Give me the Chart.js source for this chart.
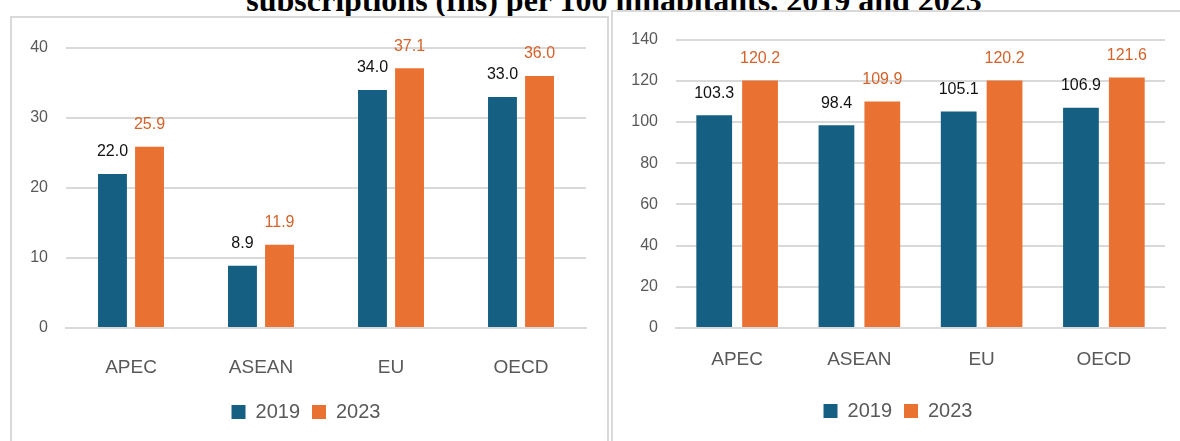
<!DOCTYPE html>
<html>
<head>
<meta charset="utf-8">
<script src="https://cdn.jsdelivr.net/npm/chart.js@4.4.1/dist/chart.umd.min.js"></script>
<style>
  body { margin: 0; width: 1180px; height: 441px; overflow: hidden; background: #fff; position: relative; }
  #title { position: absolute; left: 0; width: 1228px; top: -18px; text-align: center;
    font: bold 32px "Liberation Serif", serif; color: #000; white-space: nowrap; }
  .panel { position: absolute; border: 2px solid #d9d9d9; background: #fff; }
  #leftPanel { left: 10px; top: 16px; width: 595px; height: 440px; }
  #rightPanel { left: 611px; top: 10px; width: 580px; height: 450px; }
  canvas { position: absolute; left: 0; top: 0; }
</style>
</head>
<body>
<div id="title">subscriptions (fhs) per 100 inhabitants, 2019 and 2023</div>
<div class="panel" id="leftPanel"><canvas id="leftChart" width="595" height="423"></canvas></div>
<div class="panel" id="rightPanel"><canvas id="rightChart" width="567" height="429"></canvas></div>
<script>
const regions = ["APEC", "ASEAN", "EU", "OECD"];
const years = ["2019", "2023"];

// left panel
const fixed2019 = [22.0, 8.9, 34.0, 33.0];
const fixed2023 = [25.9, 11.9, 37.1, 36.0];

// right panel
const mobile2019 = [103.3, 98.4, 105.1, 106.9];
const mobile2023 = [120.2, 109.9, 120.2, 121.6];

const blue = "#156082";
const orange = "#e97132";
const labelColors = ["#111111", "#d4622a"];

// draws the value above each bar
const valueLabels = {
  id: "valueLabels",
  afterDatasetsDraw(chart) {
    const ctx = chart.ctx;
    ctx.save();
    ctx.font = "16px 'Liberation Sans', Arial, sans-serif";
    ctx.textAlign = "center";
    ctx.textBaseline = "middle";
    chart.data.datasets.forEach((ds, i) => {
      ctx.fillStyle = labelColors[i];
      chart.getDatasetMeta(i).data.forEach((bar, j) => {
        ctx.fillText(ds.data[j].toFixed(1), bar.x, bar.y - 22);
      });
    });
    ctx.restore();
  }
};

function makeChart(id, s2019, s2023, opts) {
  return new Chart(document.getElementById(id), {
    type: "bar",
    data: {
      labels: regions,
      datasets: [
        { label: years[0], data: s2019, backgroundColor: blue },
        { label: years[1], data: s2023, backgroundColor: orange }
      ]
    },
    options: {
      responsive: false,
      animation: false,
      datasets: { bar: { categoryPercentage: opts.catPct, barPercentage: 0.78 } },
      layout: { padding: opts.padding },
      plugins: {
        tooltip: { enabled: false },
        legend: {
          position: "bottom",
          labels: {
            boxWidth: 14, boxHeight: 14, padding: 12,
            color: "#595959",
            font: { family: "'Liberation Sans', Arial, sans-serif", size: 20 }
          }
        }
      },
      scales: {
        x: {
          grid: { display: false, drawTicks: false },
          border: { color: "#d9d9d9", width: 2 },
          ticks: {
            color: "#595959", padding: opts.xPad,
            font: { family: "'Liberation Sans', Arial, sans-serif", size: 19 }
          },
          afterFit: s => { s.height = opts.xHeight; }
        },
        y: {
          min: 0, max: opts.max,
          grid: { color: "#d9d9d9", lineWidth: 2, drawTicks: false },
          border: { display: false },
          ticks: {
            stepSize: opts.step, color: "#595959", padding: 18,
            font: { family: "'Liberation Sans', Arial, sans-serif", size: 16 }
          },
          afterFit: s => { s.width = opts.yWidth; }
        }
      }
    },
    plugins: [valueLabels]
  });
}

makeChart("leftChart", fixed2019, fixed2023, {
  max: 40, step: 10, catPct: 0.57, yWidth: 40, xHeight: 62, xPad: 28,
  padding: { left: 14, right: 21, top: 30, bottom: 9 }
});

makeChart("rightChart", mobile2019, mobile2023, {
  max: 140, step: 20, catPct: 0.75, yWidth: 45, xHeight: 61, xPad: 20,
  padding: { left: 18, right: 15, top: 27, bottom: 10 }
});
</script>
</body>
</html>
